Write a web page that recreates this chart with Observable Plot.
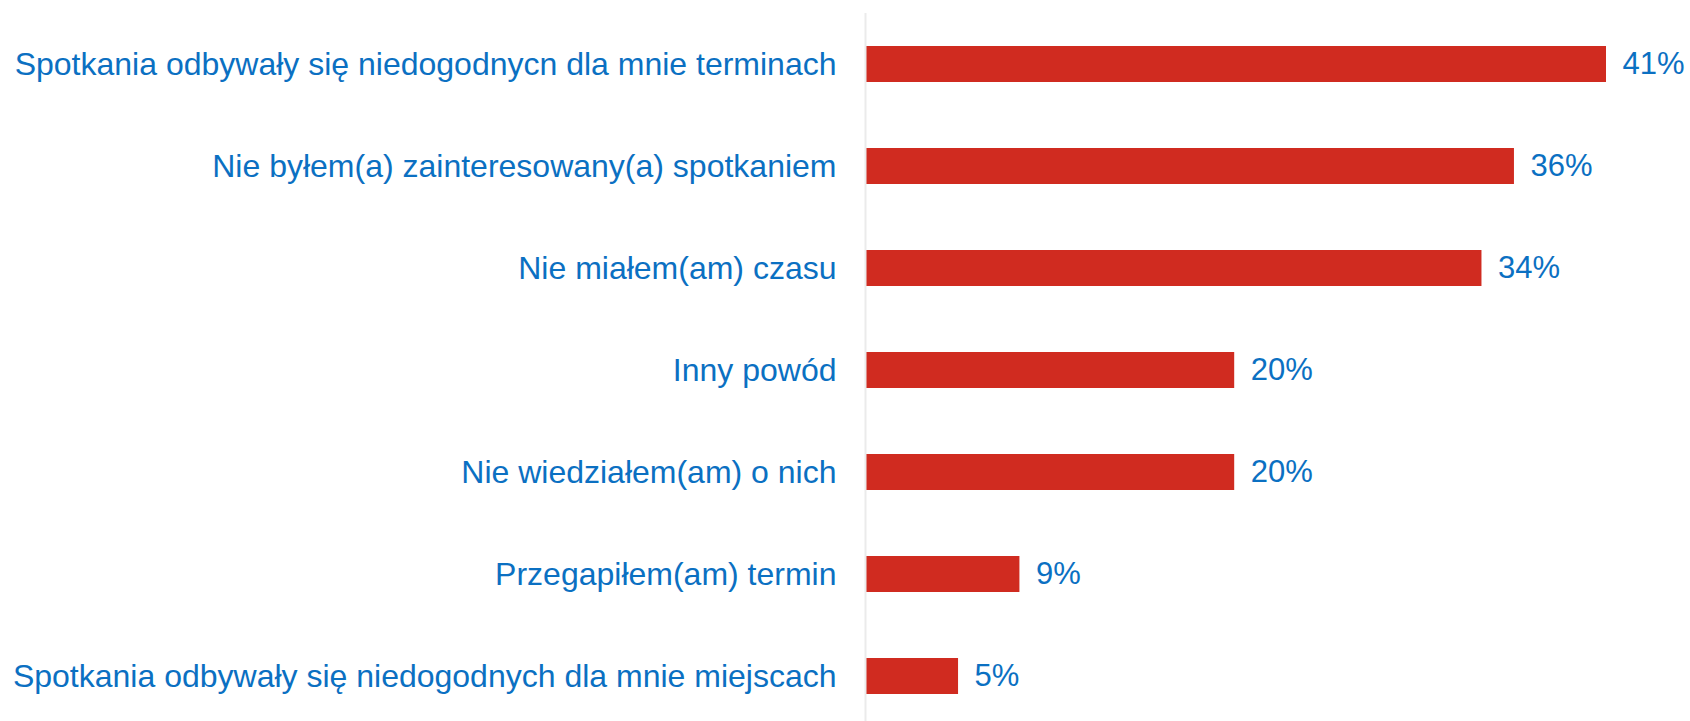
<!DOCTYPE html>
<html>
<head>
<meta charset="utf-8">
<script src="https://cdn.jsdelivr.net/npm/d3@7"></script>
<script src="https://cdn.jsdelivr.net/npm/@observablehq/plot@0.6"></script>
<style>
  html, body { margin: 0; padding: 0; background: #fff; }
  svg { display: block; }
</style>
</head>
<body>
<div id="chart"></div>
<script>
const categories = [
  "Spotkania odbywały się niedogodnycn dla mnie terminach",
  "Nie byłem(a) zainteresowany(a) spotkaniem",
  "Nie miałem(am) czasu",
  "Inny powód",
  "Nie wiedziałem(am) o nich",
  "Przegapiłem(am) termin",
  "Spotkania odbywały się niedogodnych dla mnie miejscach"
];
const values = [41, 35.9, 34.1, 20.4, 20.4, 8.5, 5.1];
const valueLabels = ["41%", "36%", "34%", "20%", "20%", "9%", "5%"];

const data = categories.map((c, i) => ({category: c, value: values[i], label: valueLabels[i]}));

const BLUE = "#0b70c2";
const RED = "#d02b20";

const chart = Plot.plot({
  width: 1690,
  height: 721,
  marginLeft: 866,
  marginRight: 84,
  marginTop: 13,
  marginBottom: 0,
  style: {fontFamily: "'Liberation Sans', Arial, sans-serif", background: "#fff"},
  x: {domain: [0, 41], axis: null},
  y: {domain: categories, range: [46, 694.5], paddingInner: 0.644, paddingOuter: 0, label: null},
  marks: [
    Plot.axisY({tickSize: 0, tickPadding: 30, fontSize: 32, color: BLUE, label: null}),
    Plot.barX(data, {x: "value", y: "category", fill: RED}),
    Plot.ruleX([0], {stroke: "#ebebeb", strokeWidth: 2, dx: -1}),
    Plot.text(data, {x: "value", y: "category", text: "label", textAnchor: "start", dx: 16, fontSize: 31, fill: BLUE})
  ]
});
document.getElementById("chart").appendChild(chart);
</script>
</body>
</html>
